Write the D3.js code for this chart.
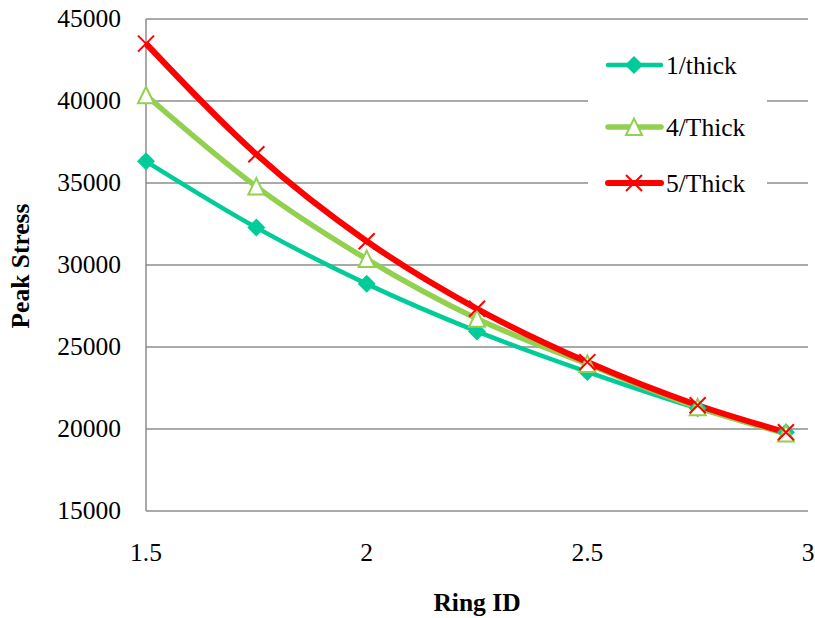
<!DOCTYPE html>
<html><head><meta charset="utf-8">
<script src="https://cdn.jsdelivr.net/npm/d3@7"></script>
<style>body{margin:0;background:#fff}svg{display:block}</style>
</head><body><svg id="c" width="815" height="618"></svg>
<script>
const ringID = [1.5, 1.75, 2, 2.25, 2.5, 2.75, 2.95];
const thick1 = [36320, 32280, 28850, 25950, 23480, 21260, 19800];
const thick4 = [40350, 34780, 30360, 26720, 23960, 21320, 19720];
const thick5 = [43500, 36750, 31450, 27330, 24080, 21450, 19800];
const seriesNames = ["1/thick", "4/Thick", "5/Thick"];
const xTicks = [1.5, 2, 2.5, 3];
const yTicks = [15000, 20000, 25000, 30000, 35000, 40000, 45000];

const FONT = '"Liberation Serif", serif';
const svg = d3.select("#c");
const L = 146, R = 808, T = 19, B = 511;
const x = d3.scaleLinear().domain([1.5, 3]).range([L, R]);
const y = d3.scaleLinear().domain([15000, 45000]).range([B, T]);
const grid = "#8c8c8c";

svg.append("g").selectAll("line").data(yTicks.slice(1)).join("line")
  .attr("x1", L).attr("x2", R).attr("y1", d => y(d)).attr("y2", d => y(d))
  .attr("stroke", grid).attr("stroke-width", 1.5);
svg.append("line").attr("x1", L).attr("x2", L).attr("y1", T).attr("y2", B).attr("stroke", grid).attr("stroke-width", 1.5);
svg.append("line").attr("x1", L).attr("x2", R).attr("y1", B).attr("y2", B).attr("stroke", grid).attr("stroke-width", 1.5);

svg.append("g").selectAll("text").data(yTicks).join("text")
  .attr("x", 121).attr("y", d => y(d) + 8).attr("text-anchor", "end")
  .style("font-family", FONT).style("font-size", "25.5px").text(d => d);
svg.append("g").selectAll("text").data(xTicks).join("text")
  .attr("x", d => x(d)).attr("y", 561).attr("text-anchor", "middle")
  .style("font-family", FONT).style("font-size", "25.5px").text(d => d);

svg.append("text").attr("x", 477).attr("y", 611).attr("text-anchor", "middle")
  .style("font-family", FONT).style("font-size", "25.5px").style("font-weight", "bold").text("Ring ID");
svg.append("text").attr("transform", "translate(29,266) rotate(-90)").attr("text-anchor", "middle")
  .style("font-family", FONT).style("font-size", "25.5px").style("font-weight", "bold").text("Peak Stress");

const series = [
  {name: seriesNames[0], vals: thick1, color: "#00cc99", w: 4.5, marker: "diamond"},
  {name: seriesNames[1], vals: thick4, color: "#92d050", w: 5.5, marker: "triangle"},
  {name: seriesNames[2], vals: thick5, color: "#ff0000", w: 6, marker: "x"}
];
const line = d3.line().x((d, i) => x(ringID[i])).y(d => y(d)).curve(d3.curveMonotoneX);

function drawMarker(g, type, color) {
  if (type === "diamond") {
    g.append("path").attr("d", "M0,-9L9,0L0,9L-9,0Z").attr("fill", color);
  } else if (type === "triangle") {
    g.append("path").attr("d", "M0,-8.5L8,8L-8,8Z").attr("fill", "#fff").attr("stroke", color).attr("stroke-width", 2);
  } else {
    g.append("path").attr("d", "M-8,-8L8,8M-8,8L8,-8").attr("stroke", color).attr("stroke-width", 2).attr("fill", "none");
  }
}

series.forEach(s => {
  svg.append("path").datum(s.vals).attr("d", line).attr("fill", "none")
    .attr("stroke", s.color).attr("stroke-width", s.w).attr("stroke-linejoin", "round");
});
series.forEach(s => {
  s.vals.forEach((v, i) => {
    const g = svg.append("g").attr("transform", `translate(${x(ringID[i])},${y(v)})`);
    drawMarker(g, s.marker, s.color);
  });
});

svg.append("rect").attr("x", 588).attr("y", 40).attr("width", 179).attr("height", 170).attr("fill", "#fff");
const ly = [65, 127, 183];
series.forEach((s, i) => {
  svg.append("line").attr("x1", 608).attr("x2", 661).attr("y1", ly[i]).attr("y2", ly[i])
    .attr("stroke", s.color).attr("stroke-width", s.w).attr("stroke-linecap", "round");
  const g = svg.append("g").attr("transform", `translate(634,${ly[i]})`);
  drawMarker(g, s.marker, s.color);
  svg.append("text").attr("x", 666).attr("y", ly[i] + 9).style("font-family", FONT).style("font-size", "25.5px").text(s.name);
});
</script></body></html>
